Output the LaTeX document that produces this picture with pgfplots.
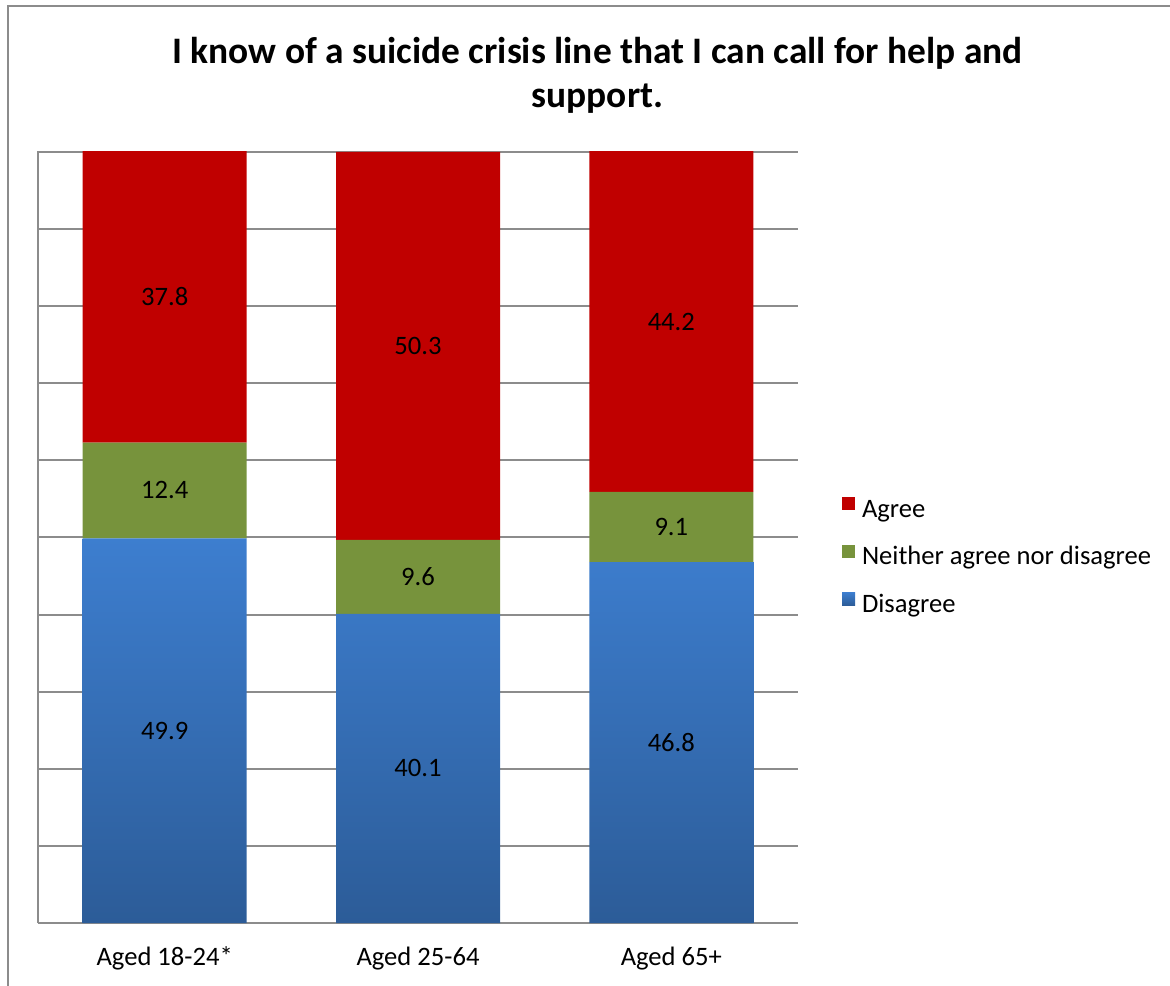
\documentclass[border=0pt]{standalone}
\usepackage{pgfplots}
\pgfplotsset{compat=1.18}
\usepackage{pgfplotstable}
\usepackage{fontspec}
\setmainfont{Carlito}
\definecolor{agree}{HTML}{C00000}
\definecolor{neither}{HTML}{77933C}
\definecolor{blueTop}{HTML}{3D7ECF}
\definecolor{blueBot}{HTML}{2C5C98}
\definecolor{gridgray}{HTML}{8C8C8C}
\pgfplotstableread{
x dis neu agr
0 49.9 12.4 37.8
1 40.1 9.6 50.3
2 46.8 9.1 44.2
}\data
\begin{document}
\begin{tikzpicture}
\useasboundingbox (0,0) rectangle (585pt,492.5pt);
\draw[gridgray, line width=0.9pt] (4pt,-1pt) -- (4pt,489.5pt) -- (586pt,489.5pt);
\node[anchor=base, font=\bfseries\fontsize{18.7}{22}\selectfont] at (298.75pt,460.8pt) {I know of a suicide crisis line that I can call for help and};
\node[anchor=base, font=\bfseries\fontsize{18.7}{22}\selectfont] at (298.75pt,438.5pt) {support.};
\begin{axis}[
  at={(19pt,31pt)}, anchor=south west,
  scale only axis, width=380pt, height=385.9pt,
  ybar stacked, bar width=82pt,
  xmin=-0.5, xmax=2.5, ymin=0, ymax=100.1,
  xtick={0,1,2}, xticklabels={Aged 18-24*, Aged 25-64, Aged 65+},
  ytick={0,10,...,100}, yticklabels={},
  major tick length=0pt,
  ymajorgrids, grid style={gridgray, line width=1pt},
  axis x line*=bottom, axis y line*=left,
  axis line style={gridgray, line width=1pt, -},
  x tick label style={anchor=base, yshift=-21pt, font=\fontsize{13.3}{16}\selectfont},
  /pgf/number format/assume math mode=true,
  point meta=explicit,
  nodes near coords={\pgfmathprintnumber[fixed,precision=1,fixed zerofill]{\pgfplotspointmeta}},
  nodes near coords style={anchor=center, font=\fontsize{13.3}{16}\selectfont, text=black},
  legend style={at={(axis description cs:1.0579,0.5514)}, anchor=north west, draw=none, fill=none, inner sep=0pt, outer sep=0pt, font=\fontsize{13.3}{16}\selectfont, row sep=10.75pt, nodes={inner sep=0pt, text height=10pt, text depth=3pt}, /tikz/every odd column/.append style={column sep=3.5pt}},
  legend cell align=left,
  legend image code/.code={\fill[#1] (0pt,0pt) rectangle (6.5pt,6.5pt);},
  reverse legend,
]
\addplot[draw=none, top color=blueTop, bottom color=blueBot] table[x=x, y=dis, meta=dis] {\data};
\addplot[draw=none, fill=neither] table[x=x, y=neu, meta=neu] {\data};
\addplot[draw=none, fill=agree] table[x=x, y=agr, meta=agr] {\data};
\legend{Disagree, Neither agree nor disagree, Agree}
\end{axis}
\end{tikzpicture}
\end{document}
